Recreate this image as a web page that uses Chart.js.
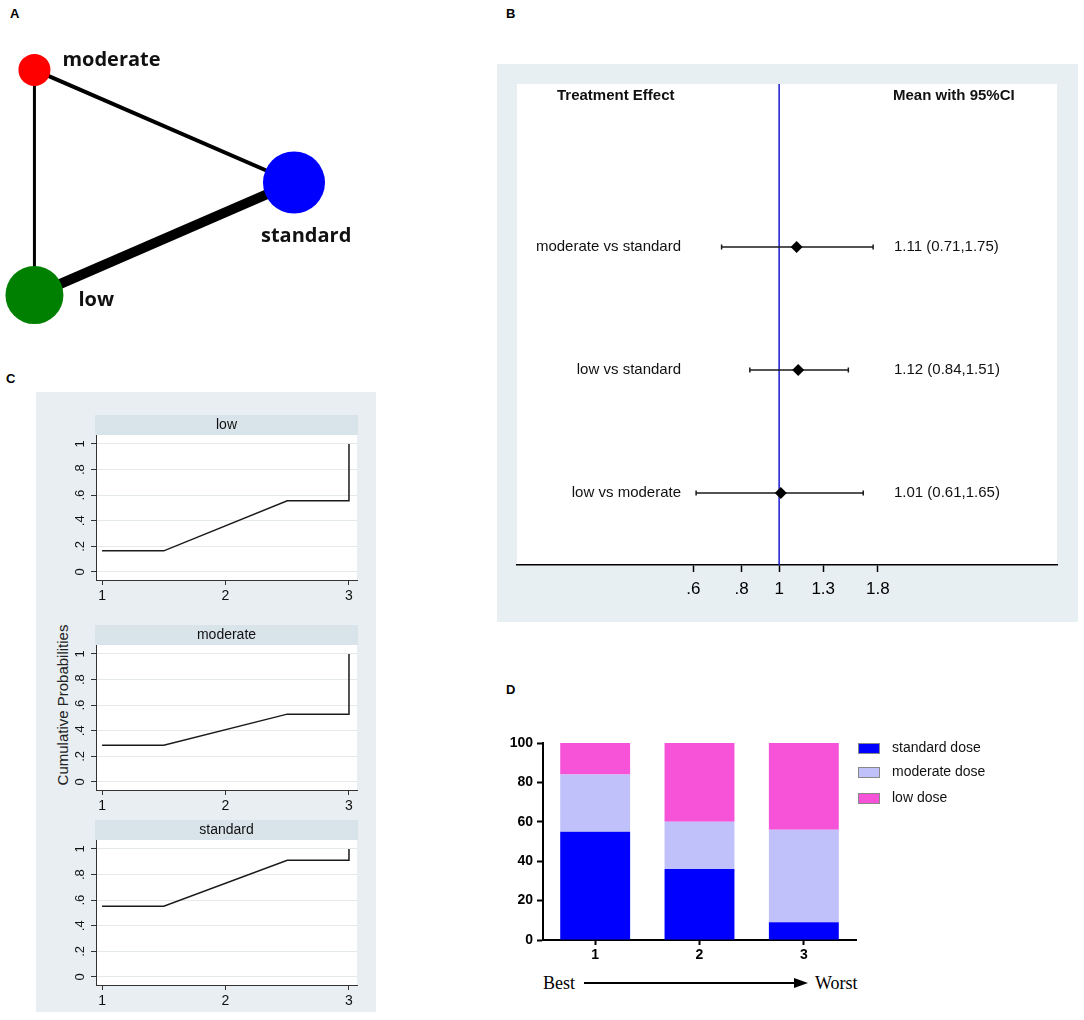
<!DOCTYPE html>
<html>
<head>
<meta charset="utf-8">
<script src="https://cdn.jsdelivr.net/npm/chart.js@4.4.1/dist/chart.umd.min.js"></script>
<style>
  body { margin: 0; background: #fff; }
  #page { position: relative; width: 1084px; height: 1020px; overflow: hidden; font-family: 'Liberation Sans', Arial, sans-serif; }
  canvas { position: absolute; }
  .tag { position: absolute; font-weight: bold; font-size: 13px; line-height: 15px; }
  #grayC { position: absolute; left: 36px; top: 392px; width: 340px; height: 620px; background: #e8eef1; }
  #ylabC { position: absolute; left: 62px; top: 705px; transform: translate(-50%, -50%) rotate(-90deg); font-size: 15px; white-space: nowrap; color: #222; }
  .serif { position: absolute; top: 973px; font: 18px 'Liberation Serif', 'Times New Roman', serif; line-height: 20px; }
</style>
</head>
<body>
<div id="page">
  <div class="tag" style="left:10px;top:6px">A</div>
  <div class="tag" style="left:506px;top:6px">B</div>
  <div class="tag" style="left:6px;top:371px">C</div>
  <div class="tag" style="left:506px;top:682px">D</div>

  <canvas id="netA" width="380" height="310" style="left:0;top:25px"></canvas>
  <canvas id="forestB" width="581" height="558" style="left:497px;top:64px"></canvas>

  <div id="grayC"></div>
  <div id="ylabC">Cumulative Probabilities</div>
  <canvas id="cumLow" width="339" height="205" style="left:37px;top:405px"></canvas>
  <canvas id="cumModerate" width="339" height="205" style="left:37px;top:615px"></canvas>
  <canvas id="cumStandard" width="339" height="205" style="left:37px;top:810px"></canvas>

  <canvas id="rankD" width="590" height="260" style="left:490px;top:700px"></canvas>
  <div class="serif" style="left:543px">Best</div>
  <svg style="position:absolute;left:580px;top:975px" width="232" height="16">
    <line x1="4" y1="8" x2="216" y2="8" stroke="#000" stroke-width="2"></line>
    <polygon points="214,3 228,8 214,13" fill="#000"></polygon>
  </svg>
  <div class="serif" style="left:815px">Worst</div>
</div>

<script>
Chart.defaults.font.family = "'Liberation Sans', Arial, sans-serif";
Chart.defaults.color = '#000';
Chart.defaults.animation = false;
Chart.defaults.layout.autoPadding = false;
Chart.defaults.plugins.legend.display = false;
Chart.defaults.plugins.tooltip.enabled = false;

// ---- A: network ----
const treatments = ['moderate', 'standard', 'low'];
const treatmentColors = ['#ff0000', '#0000ff', '#008000'];
const nodeSizes = [16, 31, 29];
const edges = [['moderate', 'standard'], ['moderate', 'low'], ['low', 'standard']];
const edgeWeights = [4, 3, 10];

// ---- B: forest plot ----
const comparisons = ['moderate vs standard', 'low vs standard', 'low vs moderate'];
const effectMean = [1.11, 1.12, 1.01];
const ciLower = [0.71, 0.84, 0.61];
const ciUpper = [1.75, 1.51, 1.65];
const effectTicks = [0.6, 0.8, 1, 1.3, 1.8];

// ---- C: cumulative rank probabilities ----
const cumLow = [0.165, 0.557, 1];
const cumModerate = [0.287, 0.53, 1];
const cumStandard = [0.553, 0.911, 1];
const cumTicks = [0, 0.2, 0.4, 0.6, 0.8, 1];
const rankTicks = [1, 2, 3];

// ---- D: rank probabilities (%) ----
const rankLabels = ['1', '2', '3'];
const standardDose = [55, 36, 9];
const moderateDose = [29, 24, 47];
const lowDose = [16, 40, 44];

const stataNum = v => {
  const s = String(Math.round(v * 100) / 100);
  return s.startsWith('0.') ? s.slice(1) : s;
};

// ============ A ============
const angleOf = { moderate: 120, standard: 0, low: 240 };
const nodePos = name => ({
  x: Math.cos(angleOf[name] * Math.PI / 180),
  y: Math.sin(angleOf[name] * Math.PI / 180)
});
const labelOffset = { moderate: [28, -10], standard: [-33, 54], low: [44, 5] };

const nodeLabels = {
  id: 'nodeLabels',
  afterDatasetsDraw(chart) {
    const { ctx, scales: { x, y } } = chart;
    ctx.save();
    ctx.font = "bold 20px 'Open Sans'";
    ctx.fillStyle = '#111';
    ctx.textBaseline = 'middle';
    ctx.textAlign = 'left';
    treatments.forEach(t => {
      const p = nodePos(t), o = labelOffset[t];
      ctx.fillText(t, x.getPixelForValue(p.x) + o[0], y.getPixelForValue(p.y) + o[1]);
    });
    ctx.restore();
  }
};

new Chart(document.getElementById('netA'), {
  type: 'scatter',
  data: {
    datasets: [
      ...edges.map((e, i) => ({
        type: 'line',
        data: [nodePos(e[0]), nodePos(e[1])],
        borderColor: '#000',
        borderWidth: edgeWeights[i],
        pointRadius: 0,
        clip: false,
        order: 2
      })),
      {
        type: 'bubble',
        data: treatments.map((t, i) => ({ ...nodePos(t), r: nodeSizes[i] })),
        backgroundColor: treatmentColors,
        borderWidth: 0,
        clip: false,
        order: 1
      }
    ]
  },
  options: {
    responsive: false,
    layout: { padding: 0 },
    scales: {
      x: { display: false, min: -0.699, max: 1.497 },
      y: { display: false, min: -1.173, max: 1.2115 }
    }
  },
  plugins: [nodeLabels]
});

// ============ B ============
const B_YMIN = 0.415, B_YMAX = 4.325;
const rowY = i => comparisons.length - i;

const forestDecor = {
  id: 'forestDecor',
  beforeDraw(chart) {
    const { ctx, chartArea: a } = chart;
    ctx.save();
    ctx.fillStyle = '#e8eff2';
    ctx.fillRect(0, 0, chart.width, chart.height);
    ctx.fillStyle = '#fff';
    ctx.fillRect(a.left, a.top, a.right - a.left, a.bottom - a.top);
    ctx.restore();
  },
  afterDraw(chart) {
    const { ctx, scales: { y } } = chart;
    ctx.save();
    ctx.fillStyle = '#111';
    ctx.textBaseline = 'middle';
    ctx.font = "bold 15px 'Liberation Sans', Arial";
    ctx.textAlign = 'left';
    const hy = y.getPixelForValue(4.23);
    ctx.fillText('Treatment Effect', 60, hy);
    ctx.fillText('Mean with 95%CI', 396, hy);
    ctx.font = "15px 'Liberation Sans', Arial";
    comparisons.forEach((c, i) => {
      const py = y.getPixelForValue(rowY(i));
      ctx.textAlign = 'right';
      ctx.fillText(c, 184, py);
      ctx.textAlign = 'left';
      ctx.fillText(effectMean[i].toFixed(2) + ' (' + ciLower[i].toFixed(2) + ',' + ciUpper[i].toFixed(2) + ')', 397, py);
    });
    ctx.restore();
  }
};

new Chart(document.getElementById('forestB'), {
  type: 'scatter',
  data: {
    datasets: [
      {
        type: 'line',
        data: [{ x: 1, y: B_YMIN }, { x: 1, y: B_YMAX }],
        borderColor: '#1a1ad0',
        borderWidth: 1.5,
        pointRadius: 0,
        order: 3
      },
      ...comparisons.map((c, i) => ({
        type: 'line',
        data: [{ x: ciLower[i], y: rowY(i) }, { x: ciUpper[i], y: rowY(i) }],
        borderColor: '#1a1a1a',
        borderWidth: 1.5,
        pointStyle: 'line',
        pointRotation: 90,
        pointRadius: 2.5,
        pointBorderWidth: 1.5,
        pointBorderColor: '#1a1a1a',
        order: 2
      })),
      {
        data: effectMean.map((m, i) => ({ x: m, y: rowY(i) })),
        pointStyle: 'rectRot',
        pointRadius: 6,
        backgroundColor: '#000',
        borderColor: '#000',
        borderWidth: 0,
        order: 1
      }
    ]
  },
  options: {
    responsive: false,
    layout: { padding: { left: 20, right: 21, top: 20, bottom: 0 } },
    scales: {
      x: {
        type: 'logarithmic',
        min: 0.21,
        max: 5.23,
        afterBuildTicks: a => { a.ticks = effectTicks.map(v => ({ value: v })); },
        ticks: { callback: v => stataNum(v), font: { size: 17 }, color: '#000', padding: 7, autoSkip: false, maxRotation: 0 },
        grid: { drawOnChartArea: false, tickLength: 7, tickColor: '#000', tickWidth: 1.5 },
        border: { color: '#000', width: 1.5 },
        afterFit: a => { a.height = 57; }
      },
      y: { display: false, min: B_YMIN, max: B_YMAX }
    }
  },
  plugins: [forestDecor]
});

// ============ C ============
const stepX = [1, 1.5, 2.5, 3, 3];
const stepLevel = [0, 0, 1, 1, 2];

function cumChart(id, name, cum) {
  const strip = {
    id: 'strip',
    beforeDraw(chart) {
      const { ctx, chartArea: a } = chart;
      ctx.save();
      ctx.fillStyle = '#fff';
      ctx.fillRect(a.left, a.top, a.right - a.left, a.bottom - a.top);
      ctx.fillStyle = '#d9e3ea';
      ctx.fillRect(a.left - 1, a.top - 20, a.right - a.left + 2, 20);
      ctx.fillStyle = '#111';
      ctx.font = "14px 'Liberation Sans', Arial";
      ctx.textAlign = 'center';
      ctx.textBaseline = 'middle';
      ctx.fillText(name, (a.left + a.right) / 2, a.top - 10);
      ctx.restore();
    }
  };
  new Chart(document.getElementById(id), {
    type: 'scatter',
    data: {
      datasets: [{
        type: 'line',
        data: stepX.map((x, k) => ({ x: x, y: cum[stepLevel[k]] })),
        borderColor: '#1a1a1a',
        borderWidth: 1.5,
        pointRadius: 0
      }]
    },
    options: {
      responsive: false,
      layout: { padding: { left: 0, right: 19, top: 30, bottom: 0 } },
      scales: {
        x: {
          min: 0.951, max: 3.065,
          afterBuildTicks: a => { a.ticks = rankTicks.map(v => ({ value: v })); },
          ticks: { font: { size: 14 }, color: '#111', padding: 3, maxRotation: 0 },
          grid: { drawOnChartArea: false, tickLength: 5, tickColor: '#333' },
          border: { color: '#333', width: 1 },
          afterFit: a => { a.height = 30; }
        },
        y: {
          min: -0.0625, max: 1.07,
          afterBuildTicks: a => { a.ticks = cumTicks.map(v => ({ value: v })); },
          ticks: { callback: v => stataNum(v), font: { size: 13 }, color: '#111', minRotation: 90, maxRotation: 90, crossAlign: 'center', padding: 5 },
          grid: { color: '#e4e9ec', tickLength: 5, tickColor: '#333' },
          border: { color: '#333', width: 1 },
          afterFit: a => { a.width = 59; }
        }
      }
    },
    plugins: [strip]
  });
}

cumChart('cumLow', 'low', cumLow);
cumChart('cumModerate', 'moderate', cumModerate);
cumChart('cumStandard', 'standard', cumStandard);

// ============ D ============
const legendD = {
  id: 'legendD',
  afterDraw(chart) {
    const { ctx, chartArea: a } = chart;
    const rows = [0, 24, 50];
    ctx.save();
    ctx.font = "14px 'Liberation Sans', Arial";
    ctx.textBaseline = 'middle';
    ctx.textAlign = 'left';
    chart.data.datasets.forEach((ds, i) => {
      const top = a.top + rows[i];
      ctx.fillStyle = ds.backgroundColor;
      ctx.fillRect(a.right + 2, top, 22, 11);
      ctx.strokeStyle = '#888';
      ctx.lineWidth = 1;
      ctx.strokeRect(a.right + 2.5, top + 0.5, 21, 10);
      ctx.fillStyle = '#111';
      ctx.fillText(ds.label, a.right + 36, top + 5.5);
    });
    ctx.restore();
  }
};

new Chart(document.getElementById('rankD'), {
  type: 'bar',
  data: {
    labels: rankLabels,
    datasets: [
      { label: 'standard dose', data: standardDose, backgroundColor: '#0000ff' },
      { label: 'moderate dose', data: moderateDose, backgroundColor: '#c0c0fb' },
      { label: 'low dose', data: lowDose, backgroundColor: '#f753d9' }
    ]
  },
  options: {
    responsive: false,
    layout: { padding: { left: 0, right: 224, top: 43, bottom: 0 } },
    datasets: { bar: { barPercentage: 0.67, categoryPercentage: 1 } },
    scales: {
      x: {
        stacked: true,
        grid: { offset: false, drawOnChartArea: false, tickLength: 5, tickColor: '#000', tickWidth: 2 },
        border: { color: '#000', width: 2 },
        ticks: { font: { size: 14, weight: 'bold' }, color: '#000', padding: 2 },
        afterFit: a => { a.height = 20; }
      },
      y: {
        stacked: true, min: 0, max: 100,
        ticks: { stepSize: 20, font: { size: 14, weight: 'bold' }, color: '#000', padding: 4 },
        grid: { drawOnChartArea: false, tickLength: 6, tickColor: '#000', tickWidth: 2 },
        border: { color: '#000', width: 2 },
        afterFit: a => { a.width = 53; }
      }
    }
  },
  plugins: [legendD]
});
</script>
</body>
</html>
